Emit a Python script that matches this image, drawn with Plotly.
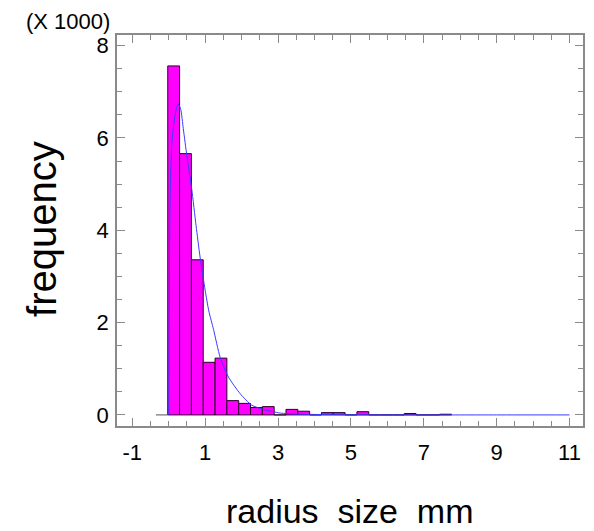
import numpy as np
import plotly.graph_objects as go

# ---- data ----
bin_start = -0.027          # left edge of first bin (mm)
bin_width = 0.3245          # bin width (mm)
counts = [7560, 5660, 3360, 1140, 1230, 310, 250, 160, 180, 0,
          120, 80, 0, 50, 50, 0, 70, 0, 0, 0,
          30, 0, 0, 15]      # frequency per bin

fit_x = [0.0, 0.01, 0.02, 0.04, 0.08, 0.13, 0.20, 0.26, 0.33, 0.40,
         0.50, 0.63, 0.75, 0.86, 1.00, 1.10, 1.23, 1.41, 1.64, 1.96,
         2.28, 2.60, 3.06, 3.50, 4.00, 5.00, 7.00, 9.00, 11.00]
fit_y = [0, 1500, 3200, 4800, 5800, 6250, 6600, 6740, 6620, 6200,
         5600, 4900, 4100, 3420, 2700, 2250, 1850, 1250, 820, 460,
         210, 120, 40, 20, 10, 3, 0, 0, 0]

x_ticks = [-1, 1, 3, 5, 7, 9, 11]
y_ticks = [0, 2, 4, 6, 8]
scale = 1000

counts_k = np.array(counts) / scale
centers = bin_start + bin_width * (np.arange(len(counts)) + 0.5)

fig = go.Figure()

# empty leading bin drawn as a flat baseline
fig.add_trace(go.Scatter(
    x=[bin_start - bin_width, bin_start], y=[0, 0], mode="lines",
    line=dict(color="#555555", width=1), hoverinfo="skip", showlegend=False))

fig.add_trace(go.Bar(
    x=centers, y=counts_k, width=bin_width,
    marker=dict(color="#ff00ff", line=dict(color="#2a002a", width=1)),
    showlegend=False))

fig.add_trace(go.Scatter(
    x=fit_x, y=np.array(fit_y) / scale, mode="lines",
    line=dict(color="#3a3aff", width=1, shape="spline", smoothing=0.6),
    showlegend=False))

frame = "#8a8a8a"
font_family = "Liberation Sans, Arial, sans-serif"

fig.update_xaxes(
    range=[-1.42, 11.37], tickvals=x_ticks, ticktext=[str(v) for v in x_ticks],
    ticks="inside", ticklen=8, tickwidth=1, tickcolor=frame,
    showline=True, linecolor=frame, linewidth=1.5, mirror="ticks",
    minor=dict(dtick=0.5, tick0=-1, ticks="inside", ticklen=5,
               tickwidth=1, tickcolor=frame),
    showgrid=False, zeroline=False, automargin=False,
    tickfont=dict(family=font_family, size=22, color="black"),
    ticklabelstandoff=6)

fig.update_yaxes(
    range=[-0.24, 8.23], tickvals=y_ticks, ticktext=[str(v) for v in y_ticks],
    ticks="inside", ticklen=8, tickwidth=1, tickcolor=frame,
    showline=True, linecolor=frame, linewidth=1.5, mirror="ticks",
    minor=dict(dtick=0.5, tick0=0, ticks="inside", ticklen=5,
               tickwidth=1, tickcolor=frame),
    showgrid=False, zeroline=False, automargin=False,
    tickfont=dict(family=font_family, size=22, color="black"),
    ticklabelstandoff=2)

# page body has an 8px margin, so the figure is 8px smaller than the window
fig.update_layout(
    width=586, height=523,
    margin=dict(l=109, r=11, t=27, b=105),
    paper_bgcolor="white", plot_bgcolor="white",
    font=dict(family=font_family, color="black"),
    annotations=[
        dict(text="radius&nbsp;&nbsp;size&nbsp;&nbsp;mm", xref="paper", yref="paper",
             x=0.5, y=-0.217, xanchor="center", yanchor="middle",
             showarrow=False, font=dict(size=34, family=font_family)),
        dict(text="frequency", xref="paper", yref="paper",
             x=-0.161, y=0.504, xanchor="center", yanchor="middle",
             textangle=-90, showarrow=False,
             font=dict(size=40, family=font_family)),
        dict(text="(X 1000)", xref="paper", yref="paper",
             x=-0.013, y=1.069, xanchor="right", yanchor="top",
             showarrow=False, borderpad=0,
             font=dict(size=22, family=font_family)),
    ],
)

fig.write_html("out.html")
